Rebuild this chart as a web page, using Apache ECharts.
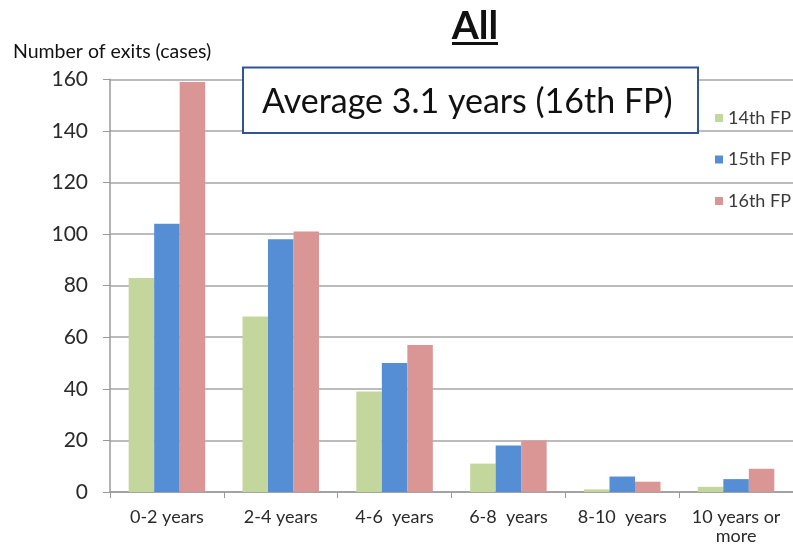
<!DOCTYPE html>
<html>
<head>
<meta charset="utf-8">
<script src="https://cdn.jsdelivr.net/npm/echarts@6/dist/echarts.min.js"></script>
<style>
  html, body { margin: 0; padding: 0; background: #fff; }
  #chart { width: 793px; height: 551px; }
</style>
</head>
<body>
<div id="chart"></div>
<script>
// Exits by holding period, three fund programmes
const categories = ['0-2 years', '2-4 years', '4-6  years', '6-8  years', '8-10  years', '10 years or\nmore'];
const seriesNames = ['14th FP', '15th FP', '16th FP'];
const fp14 = [83, 68, 39, 11, 1, 2];
const fp15 = [104, 98, 50, 18, 6, 5];
const fp16 = [159, 101, 57, 20, 4, 9];
const yTicks = [0, 20, 40, 60, 80, 100, 120, 140, 160];
const colors = ['#c3d69b', '#558ed5', '#d99694'];

const FONT = 'Lato, "Open Sans", sans-serif';
const chart = echarts.init(document.getElementById('chart'), null, { renderer: 'canvas' });

const values = [fp14, fp15, fp16];
chart.setOption({
  animation: false,
  textStyle: { fontFamily: FONT },
  grid: { left: 110, right: -3, top: 79.3, bottom: 59 },
  legend: {
    orient: 'vertical',
    left: 715,
    top: 109,
    padding: 0,
    itemWidth: 8,
    itemHeight: 8,
    itemGap: 23.5,
    icon: 'rect',
    textStyle: { fontSize: 18, color: '#3a3a3a', fontFamily: FONT, lineHeight: 18, padding: [0, 0, 0, 0] },
    data: seriesNames
  },
  xAxis: {
    type: 'category',
    data: categories,
    axisLine: { lineStyle: { color: '#9a9a9a', width: 1.5 } },
    axisTick: { show: true, alignWithLabel: false, length: 6, lineStyle: { color: '#9a9a9a' } },
    axisLabel: { interval: 0, hideOverlap: false, fontSize: 18, color: '#2a2a2a', margin: 16, lineHeight: 19, fontFamily: FONT }
  },
  yAxis: {
    type: 'value',
    min: yTicks[0],
    max: yTicks[yTicks.length - 1],
    interval: 20,
    axisLine: { show: true, lineStyle: { color: '#9a9a9a', width: 1.5 } },
    axisTick: { show: true, length: 7, lineStyle: { color: '#9a9a9a' } },
    axisLabel: { fontSize: 21, color: '#2a2a2a', margin: 22, fontFamily: FONT },
    splitLine: { lineStyle: { color: '#a6a6a6', width: 1.5 } }
  },
  series: seriesNames.map((name, i) => ({
    name: name,
    type: 'bar',
    data: values[i],
    barWidth: 25.5,
    barGap: '0%',
    itemStyle: { color: colors[i] }
  })),
  graphic: [
    {
      type: 'text', x: 13, y: 52,
      style: { text: 'Number of exits (cases)', font: '19.5px ' + FONT, fill: '#111', verticalAlign: 'middle' }
    },
    {
      type: 'text', x: 475, y: 26,
      style: { text: 'All', font: 'bold 39px ' + FONT, fill: '#111', align: 'center', verticalAlign: 'middle' }
    },
    {
      type: 'rect', x: 452, y: 42,
      shape: { width: 46, height: 3 },
      style: { fill: '#111' }
    },
    {
      type: 'rect', x: 243, y: 67.5, z: 10,
      shape: { width: 455, height: 65.5 },
      style: { fill: '#fff', stroke: '#2f5597', lineWidth: 2 }
    },
    {
      type: 'text', x: 262, y: 102, z: 11,
      style: { text: 'Average 3.1 years (16th FP)', font: '34px ' + FONT, fill: '#111', verticalAlign: 'middle' }
    }
  ]
});
</script>
</body>
</html>
